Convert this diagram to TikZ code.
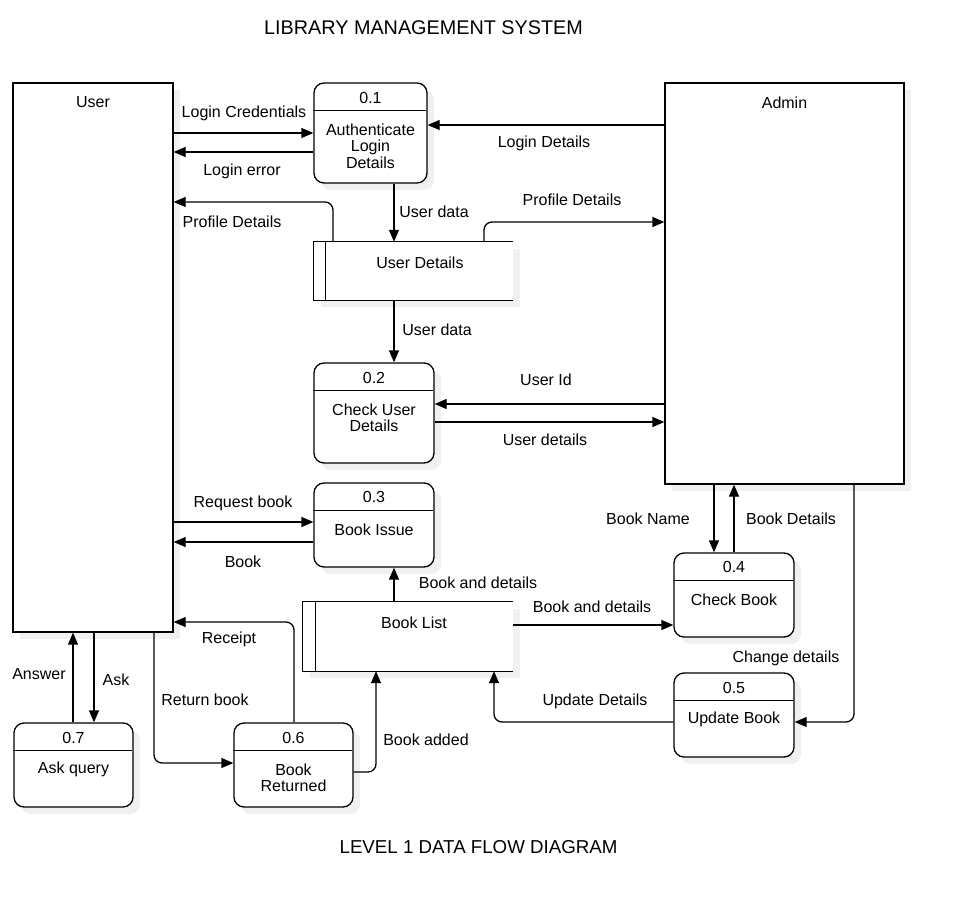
\documentclass[tikz,border=0pt]{standalone}
\usepackage{fontspec}
\setmainfont{Liberation Sans}
\usetikzlibrary{arrows.meta,shadows}
\begin{document}
\begin{tikzpicture}[x=1pt,y=-1pt,
  lw/.style={line width=1.3pt},
  shad/.style={drop shadow={shadow xshift=7pt,shadow yshift=-7pt,fill=black!6,opacity=1}},
  entity/.style={draw,lw,fill=white,inner sep=0,shad},
  proc/.style={draw,lw,fill=white,inner sep=0,rounded corners=10pt,shad},
  store/.style={inner sep=0},
  flow/.style={lw,-{Triangle[length=12pt,width=10pt]},rounded corners=8pt},
  lbl/.style={font=\fontsize{16}{16.5}\selectfont,inner sep=0,align=center,yshift=-1.5pt},
  ttl/.style={font=\fontsize{19.8}{22}\selectfont,inner sep=0,yshift=-1pt}]
\useasboundingbox (0,0) rectangle (953,915);
\fill[white] (0,0) rectangle (953,915);

% titles
\node[ttl] (title) at (423.5,27) {LIBRARY MANAGEMENT SYSTEM};
\node[ttl,font=\fontsize{18.7}{22}\selectfont] (subtitle) at (478.5,846) {LEVEL 1 DATA FLOW DIAGRAM};

% entities
\node[entity,minimum width=160,minimum height=549] (user) at (93,357.5) {};
\node[lbl] (userlbl) at (93,101) {User};
\node[entity,minimum width=239,minimum height=401] (admin) at (784.5,283.5) {};
\node[lbl] (adminlbl) at (784.5,101) {Admin};

% processes
\node[proc,minimum width=113,minimum height=100] (p1) at (370.5,133) {};
\node[proc,minimum width=120,minimum height=100] (p2) at (374,413) {};
\node[proc,minimum width=120,minimum height=84] (p3) at (374,525) {};
\node[proc,minimum width=120,minimum height=84] (p4) at (734,595) {};
\node[proc,minimum width=120,minimum height=84] (p5) at (734,715) {};
\node[proc,minimum width=119,minimum height=84] (p6) at (293.5,765) {};
\node[proc,minimum width=119,minimum height=84] (p7) at (73.5,765) {};
\foreach \p/\w in {p1/113,p2/120,p3/120,p4/120,p5/120,p6/119,p7/119}{
  \draw[lw] (\p.north west) ++(0,28) -- ++(\w,0);
}
\node[lbl] (n1) at (370.5,96) {0.1};
\node[lbl] (t1) at (370.5,144.5) {Authenticate\\Login\\Details};
\node[lbl] (n2) at (374,376) {0.2};
\node[lbl] (t2) at (374,416.5) {Check User\\Details};
\node[lbl] (n3) at (374,495) {0.3};
\node[lbl] (t3) at (374,528) {Book Issue};
\node[lbl] (n4) at (734,565) {0.4};
\node[lbl] (t4) at (734,598) {Check Book};
\node[lbl] (n5) at (734,686) {0.5};
\node[lbl] (t5) at (734,718) {Update Book};
\node[lbl] (n6) at (293.5,736) {0.6};
\node[lbl] (t6) at (293.5,776.5) {Book\\Returned};
\node[lbl] (n7) at (73.5,736) {0.7};
\node[lbl] (t7) at (73.5,768) {Ask query};

% data stores
\fill[black!6] (321,249) rectangle (520,307);
\fill[white] (314,242) rectangle (513,300);
\node[store,minimum width=199,minimum height=58] (s1) at (413.5,271) {};
\draw[lw] (s1.north east) -- (s1.north west) -- (s1.south west) -- (s1.south east);
\draw[lw] (s1.north west) ++(12,0) -- ++(0,58);
\node[lbl] (s1lbl) at (420,261) {User Details};

\fill[black!6] (310,609) rectangle (520,678);
\fill[white] (303,602) rectangle (513,671);
\node[store,minimum width=210,minimum height=69] (s2) at (408,636.5) {};
\draw[lw] (s2.north east) -- (s2.north west) -- (s2.south west) -- (s2.south east);
\draw[lw] (s2.north west) ++(13,0) -- ++(0,69);
\node[lbl] (s2lbl) at (414,621) {Book List};

% flows
\draw[flow] (user.east |- 0,133) -- (p1.west |- 0,133);
\node[lbl] at (244,112) {Login Credentials};
\draw[flow] (p1.west |- 0,152) -- (user.east |- 0,152);
\node[lbl] at (242,170) {Login error};
\draw[flow] (admin.west |- 0,125) -- (p1.east |- 0,125);
\node[lbl] at (544,142) {Login Details};
\draw[flow] (p1.south -| 394,0) -- (s1.north -| 394,0);
\node[lbl] at (434,210) {User data};
\draw[flow] (s1.north -| 333,0) |- (user.east |- 0,202);
\node[lbl] at (232,220) {Profile Details};
\draw[flow] (s1.north -| 484,0) |- (admin.west |- 0,222);
\node[lbl] at (572,198) {Profile Details};
\draw[flow] (s1.south -| 394,0) -- (p2.north -| 394,0);
\node[lbl] at (437,328) {User data};
\draw[flow] (admin.west |- 0,404) -- (p2.east |- 0,404);
\node[lbl] at (546,378) {User Id};
\draw[flow] (p2.east |- 0,422) -- (admin.west |- 0,422);
\node[lbl] at (545,438) {User details};
\draw[flow] (user.east |- 0,522) -- (p3.west |- 0,522);
\node[lbl] at (243,502) {Request book};
\draw[flow] (p3.west |- 0,542) -- (user.east |- 0,542);
\node[lbl] at (243,560) {Book};
\draw[flow] (s2.north -| 394,0) -- (p3.south -| 394,0);
\node[lbl] at (478,581) {Book and details};
\draw[flow] (s2.east |- 0,625) -- (p4.west |- 0,625);
\node[lbl] at (592,605) {Book and details};
\draw[flow] (admin.south -| 714,0) -- (p4.north -| 714,0);
\node[lbl] at (648,517) {Book Name};
\draw[flow] (p4.north -| 734,0) -- (admin.south -| 734,0);
\node[lbl] at (791,517) {Book Details};
\draw[flow] (admin.south -| 854,0) |- (p5.east |- 0,722);
\node[lbl] at (786,657) {Change details};
\draw[flow] (p5.west |- 0,722) -| (s2.south -| 494,0);
\node[lbl] at (595,700) {Update Details};
\draw[flow] (p7.north -| 73,0) -- (user.south -| 73,0);
\node[lbl] at (39,673) {Answer};
\draw[flow] (user.south -| 94,0) -- (p7.north -| 94,0);
\node[lbl] at (116,678) {Ask};
\draw[flow] (user.south -| 154,0) |- (p6.west |- 0,763);
\node[lbl] at (205,698) {Return book};
\draw[flow] (p6.north -| 294,0) |- (user.east |- 0,622);
\node[lbl] at (229,638) {Receipt};
\draw[flow] (p6.east |- 0,772) -| (s2.south -| 376,0);
\node[lbl] at (426,738) {Book added};
\end{tikzpicture}
\end{document}
